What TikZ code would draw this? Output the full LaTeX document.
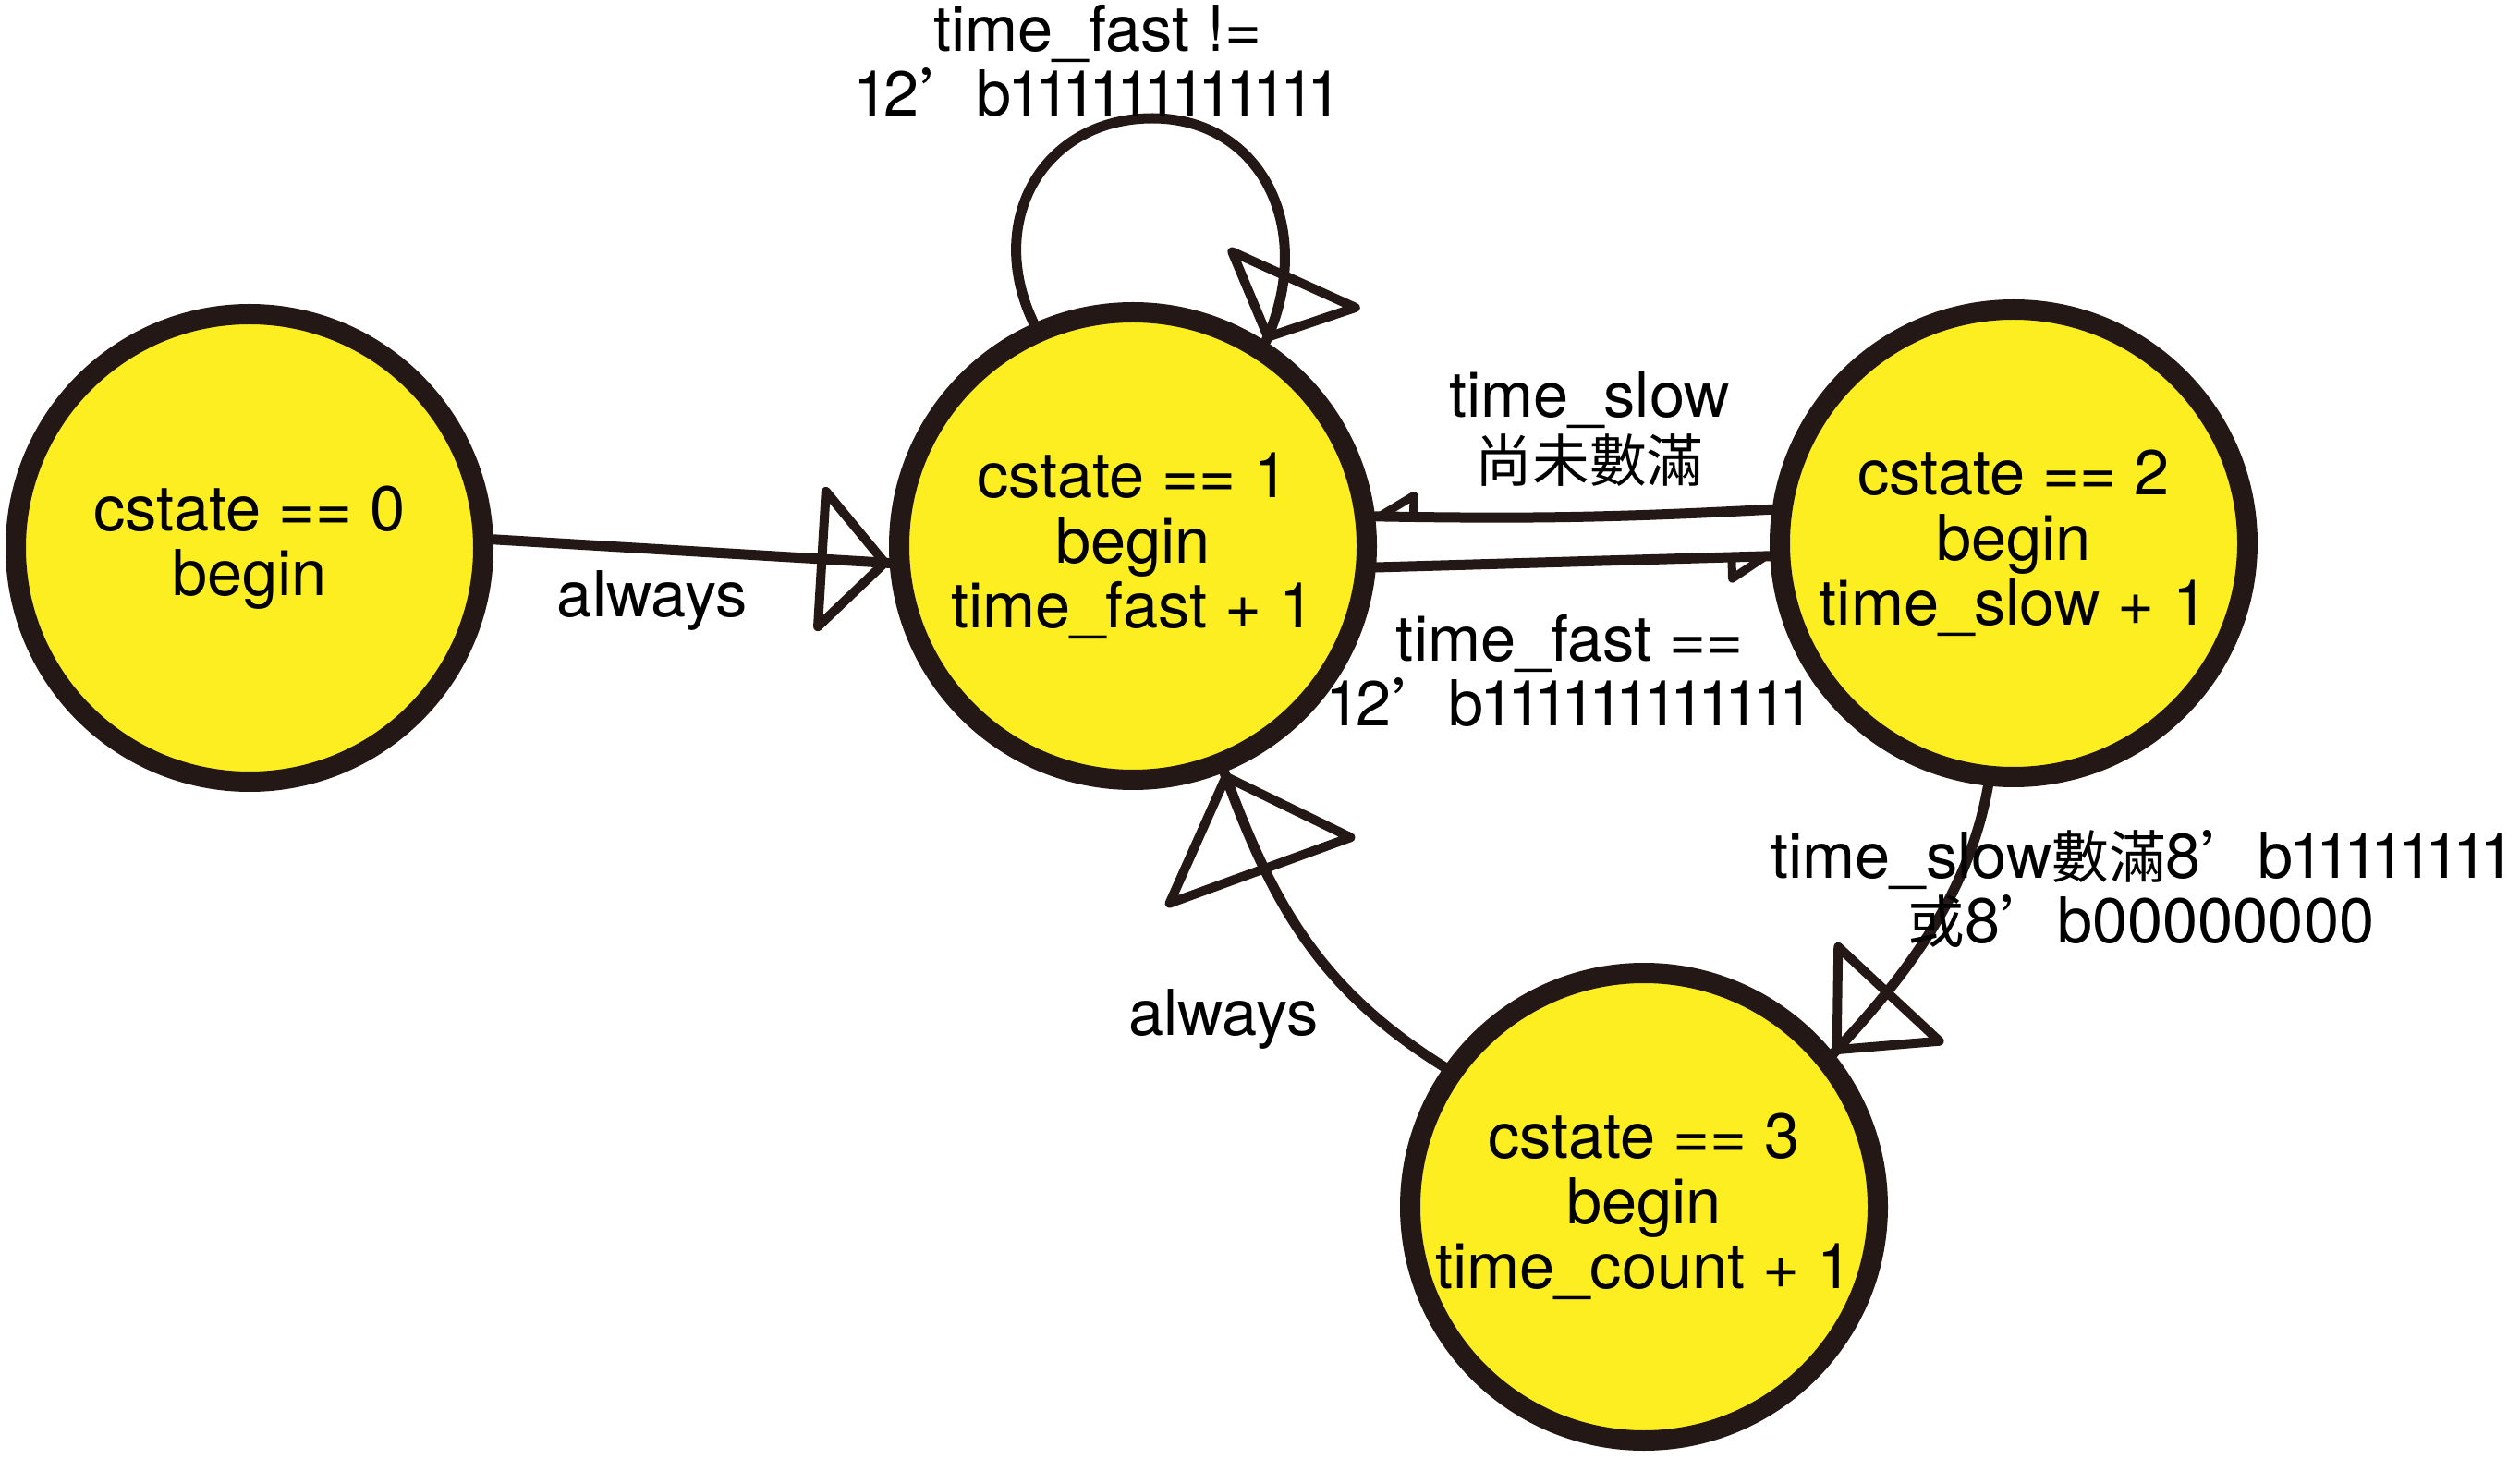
\documentclass[tikz,border=0pt]{standalone}
\usepackage{fontspec}
\setmainfont{TeX Gyre Heros}
\newfontfamily\cjk{Noto Sans CJK TC}[Scale=0.9]
\usetikzlibrary{arrows.meta,decorations.markings}
\definecolor{stfill}{HTML}{FCEE21}
\definecolor{stline}{HTML}{231815}
\newcommand\nrw{\kern-0.063em 1\kern-0.063em\relax}
\newcommand\qq{{\cjk ’}}
\begin{document}
\begin{tikzpicture}[
  every node/.style={font=\fontsize{19.5}{20}\selectfont, text=black},
  stnode/.style={circle, draw=stline, fill=stfill, line width=0.22cm, minimum size=5.06cm, inner sep=0pt, align=center},
  lbl/.style={align=center, inner sep=0pt},
  conn/.style={draw=stline, line width=0.11cm, line cap=round, line join=round},
  tipmark/.style={postaction={decorate}, decoration={markings, mark=at position 0.9995 with {\arrow{#1}}}},
  bigtip/.style={tipmark={Triangle[open,round,length=0.8cm,width=1.7cm,line width=0.1cm]}},
  midtip/.style={tipmark={Triangle[open,round,length=0.95cm,width=1.7cm,line width=0.1cm]}},
  hugetip/.style={tipmark={Triangle[open,round,length=1.2cm,width=2.3cm,line width=0.1cm]}},
  halftip/.style={tipmark={Triangle[open,round,right,length=0.5cm,width=0.6cm,line width=0.09cm]}},
]
\useasboundingbox (0,0) rectangle (27.27,15.78);

\node[stnode] (c0) at (2.70,9.85) {cstate == 0\\begin};
\node[stnode] (c1) at (12.26,9.87) {cstate == 1\\begin\\time\_fast + 1};
\node[stnode] (c2) at (21.79,9.90) {cstate == 2\\begin\\time\_slow + 1};
\node[stnode] (c3) at (17.79,2.72) {cstate == 3\\begin\\time\_count + 1};

% 0 -> 1
\draw[conn,bigtip] (c0.2) -- (c1.184);
% self loop on 1
\draw[conn,bigtip] (c1.114) .. controls (10.65,13.4) and (11.3,14.5) .. (12.47,14.5) .. controls (13.65,14.5) and (14.25,13.3) .. (c1.57);
% 2 -> 1
\draw[conn,halftip] (c2.172) to[bend left=2] (c1.7);
% 1 -> 2
\draw[conn,halftip] (c1.-5) -- (c2.183);
% 2 -> 3
\draw[conn,midtip] (c2.264) to[out=-100,in=47,looseness=0.9] (c3.39);
% 3 -> 1
\draw[conn,hugetip] (c3.145) to[out=148,in=-70] (c1.-68);

\node[lbl] (l0) at (7.06,9.28) {always};
\node[lbl] (l1) at (11.88,15.12) {time\_fast !=\\\nrw 2\qq b\nrw\nrw\nrw\nrw\nrw\nrw\nrw\nrw\nrw\nrw\nrw\nrw};
\node[lbl] (l2) at (17.20,11.14) {time\_slow\\{\cjk 尚未數滿}};
\node[lbl] (l3) at (16.99,8.52) {time\_fast ==\\\nrw 2\qq b\nrw\nrw\nrw\nrw\nrw\nrw\nrw\nrw\nrw\nrw\nrw\nrw};
\node[lbl] (l4) at (23.17,6.16) {time\_slow{\cjk 數滿}8\qq b\nrw\nrw\nrw\nrw\nrw\nrw\nrw\nrw\\{\cjk 或}8\qq b00000000};
\node[lbl] (l5) at (13.24,4.75) {always};
\end{tikzpicture}
\end{document}
